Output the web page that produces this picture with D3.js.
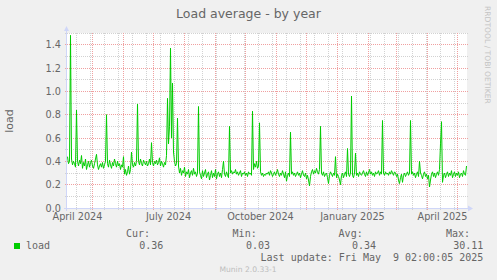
<!DOCTYPE html>
<html>
<head>
<meta charset="utf-8">
<script src="https://cdn.jsdelivr.net/npm/d3@7"></script>
<style>
  html, body { margin: 0; padding: 0; background: #f0f0f0; }
  svg { display: block; }
  text { font-family: 'DejaVu Sans', sans-serif; fill: #666666; }
  .mono { font-family: 'DejaVu Sans Mono', monospace; white-space: pre; font-size: 10px; }
</style>
</head>
<body>
<div id="chart"></div>
<script>
// one value per day, starting at firstDay
const firstDay = '2024-04-06';
const load = [
  0.44, 0.38, 0.40, 1.48, 0.42, 0.37, 0.40, 0.38, 0.35, 0.84,
  0.40, 0.36, 0.41, 0.38, 0.45, 0.34, 0.39, 0.36, 0.42, 0.33,
  0.37, 0.40, 0.35, 0.39, 0.41, 0.36, 0.34, 0.38, 0.42, 0.46,
  0.37, 0.33, 0.36, 0.38, 0.35, 0.39, 0.34, 0.37, 0.40, 0.80,
  0.38, 0.35, 0.41, 0.37, 0.34, 0.39, 0.36, 0.42, 0.38, 0.35,
  0.40, 0.36, 0.38, 0.33, 0.37, 0.35, 0.44, 0.29, 0.33, 0.28,
  0.31, 0.36, 0.29, 0.33, 0.48, 0.37, 0.35, 0.39, 0.36, 0.40,
  0.89, 0.40, 0.37, 0.42, 0.38, 0.36, 0.41, 0.39, 0.37, 0.40,
  0.36, 0.38, 0.42, 0.37, 0.56, 0.39, 0.36, 0.40, 0.38, 0.41,
  0.37, 0.39, 0.43, 0.36, 0.40, 0.38, 0.35, 0.39, 0.37, 0.45,
  0.94, 0.55, 0.70, 1.37, 0.60, 1.07, 0.48, 0.40, 0.36, 0.38,
  0.77, 0.36, 0.30, 0.34, 0.28, 0.32, 0.30, 0.35, 0.27, 0.31,
  0.29, 0.33, 0.26, 0.30, 0.32, 0.28, 0.34, 0.29, 0.31, 0.27,
  0.30, 0.87, 0.31, 0.28, 0.25, 0.32, 0.27, 0.30, 0.33, 0.26,
  0.29, 0.31, 0.24, 0.28, 0.32, 0.26, 0.30, 0.27, 0.33, 0.25,
  0.29, 0.31, 0.27, 0.30, 0.26, 0.33, 0.40, 0.29, 0.27, 0.31,
  0.28, 0.26, 0.70, 0.30, 0.32, 0.29, 0.31, 0.30, 0.33, 0.29,
  0.31, 0.28, 0.30, 0.32, 0.27, 0.30, 0.29, 0.31, 0.28, 0.30,
  0.27, 0.31, 0.29, 0.30, 0.28, 0.83, 0.33, 0.38, 0.35, 0.40,
  0.34, 0.36, 0.73, 0.31, 0.28, 0.30, 0.27, 0.29, 0.28, 0.30,
  0.29, 0.31, 0.28, 0.32, 0.30, 0.27, 0.29, 0.31, 0.28, 0.30,
  0.33, 0.29, 0.27, 0.30, 0.28, 0.32, 0.29, 0.26, 0.31, 0.23,
  0.28, 0.30, 0.27, 0.65, 0.29, 0.31, 0.28, 0.30, 0.27, 0.29,
  0.31, 0.28, 0.30, 0.26, 0.29, 0.32, 0.28, 0.27, 0.30, 0.25,
  0.28, 0.24, 0.19, 0.27, 0.31, 0.33, 0.29, 0.32, 0.30, 0.34,
  0.31, 0.29, 0.33, 0.70, 0.30, 0.28, 0.31, 0.27, 0.29, 0.30,
  0.26, 0.21, 0.28, 0.31, 0.29, 0.27, 0.30, 0.28, 0.44, 0.26,
  0.29, 0.27, 0.24, 0.20, 0.28, 0.30, 0.26, 0.29, 0.31, 0.27,
  0.51, 0.29, 0.27, 0.30, 0.96, 0.28, 0.26, 0.30, 0.47, 0.28,
  0.30, 0.27, 0.31, 0.29, 0.28, 0.30, 0.32, 0.29, 0.27, 0.31,
  0.28, 0.30, 0.33, 0.29, 0.31, 0.28, 0.30, 0.27, 0.31, 0.29,
  0.30, 0.32, 0.28, 0.31, 0.29, 0.75, 0.30, 0.28, 0.31, 0.29,
  0.30, 0.28, 0.31, 0.29, 0.32, 0.30, 0.28, 0.31, 0.30, 0.27,
  0.29, 0.24, 0.21, 0.26, 0.29, 0.22, 0.28, 0.30, 0.27, 0.29,
  0.31, 0.28, 0.30, 0.75, 0.29, 0.31, 0.28, 0.30, 0.26, 0.29,
  0.31, 0.27, 0.40, 0.30, 0.28, 0.25, 0.29, 0.31, 0.27, 0.29,
  0.25, 0.28, 0.18, 0.24, 0.29, 0.31, 0.27, 0.30, 0.26, 0.29,
  0.31, 0.28, 0.33, 0.55, 0.74, 0.22, 0.28, 0.30, 0.26, 0.29,
  0.31, 0.27, 0.30, 0.28, 0.32, 0.26, 0.29, 0.31, 0.27, 0.30,
  0.28, 0.31, 0.26, 0.29, 0.30, 0.27, 0.32, 0.29, 0.28, 0.36
];

const yTicks = [0, 0.2, 0.4, 0.6, 0.8, 1.0, 1.2, 1.4];
const yMinor = [0.1, 0.3, 0.5, 0.7, 0.9, 1.1, 1.3, 1.5];
const labelMonths = ['2024-04-01', '2024-07-01', '2024-10-01', '2025-01-01', '2025-04-01'];

const legendHeads = ['Cur:', 'Min:', 'Avg:', 'Max:'];
const legendValues = ['0.36', '0.03', '0.34', '30.11'];
const seriesName = 'load';
const lastUpdate = 'Last update: Fri May  9 02:00:05 2025';

const width = 497;
const height = 280;
const plotLeft = 67;
const plotTop = 33;
const plotW = 400;
const plotH = 175;

const svg = d3.select('#chart').append('svg').attr('width', width).attr('height', height);

svg.append('rect').attr('width', width).attr('height', height).attr('fill', '#f0f0f0');
svg.append('rect').attr('x', plotLeft).attr('y', plotTop).attr('width', plotW).attr('height', plotH).attr('fill', '#ffffff');

/* Scales
=========================================================================*/
const start = new Date(Date.UTC(2024, 3, 5, 12));
const end = d3.utcDay.offset(start, 400);
const x = d3.scaleUtc().domain([start, end]).range([plotLeft, plotLeft + plotW]);
const y = d3.scaleLinear().domain([0, 1.5]).range([plotTop + plotH, plotTop]);
const px = (v) => Math.floor(v) + 0.5;

/* Grid
=========================================================================*/
const grid = svg.append('g');
const minorDays = d3.utcMonday.range(new Date(Date.UTC(2024, 3, 15)), end, 2);
const months = d3.utcMonth.range(start, end);

grid.selectAll('.xminor').data(minorDays).enter().append('line')
  .attr('x1', (d) => px(x(d))).attr('x2', (d) => px(x(d)))
  .attr('y1', plotTop).attr('y2', plotTop + plotH + 2)
  .attr('stroke', '#d2d2d2').attr('stroke-dasharray', '1,1');

grid.selectAll('.yminor').data(yMinor).enter().append('line')
  .attr('x1', plotLeft - 2).attr('x2', plotLeft + plotW + 1)
  .attr('y1', (d) => px(y(d))).attr('y2', (d) => px(y(d)))
  .attr('stroke', '#d2d2d2').attr('stroke-dasharray', '1,1');

grid.selectAll('.xmajor').data(months).enter().append('line')
  .attr('x1', (d) => px(x(d))).attr('x2', (d) => px(x(d)))
  .attr('y1', plotTop).attr('y2', plotTop + plotH + 3)
  .attr('stroke', '#f0a0a0').attr('stroke-dasharray', '1,1');

grid.selectAll('.ymajor').data(yTicks.slice(1)).enter().append('line')
  .attr('x1', plotLeft - 2).attr('x2', plotLeft + plotW + 1)
  .attr('y1', (d) => px(y(d))).attr('y2', (d) => px(y(d)))
  .attr('stroke', '#f0a0a0').attr('stroke-dasharray', '1,1');

/* Line
=========================================================================*/
const day0 = new Date(firstDay + 'T00:00:00Z');
const points = load.map((v, i) => [d3.utcDay.offset(day0, i), v]);

svg.append('path')
  .datum(points)
  .attr('fill', 'none')
  .attr('stroke', '#00cc00')
  .attr('stroke-width', 1)
  .attr('d', d3.line().x((d) => x(d[0])).y((d) => y(d[1])));

/* Axes
=========================================================================*/
const axisColor = '#cfd6f8';
const y0 = px(y(0));
svg.append('line').attr('x1', plotLeft - 0.5).attr('x2', plotLeft - 0.5).attr('y1', plotTop + plotH + 3).attr('y2', plotTop - 3)
  .attr('stroke', axisColor);
svg.append('line').attr('x1', plotLeft - 3).attr('x2', plotLeft + plotW + 2).attr('y1', y0).attr('y2', y0)
  .attr('stroke', axisColor);
svg.append('path')
  .attr('d', `M${plotLeft - 3},${plotTop - 2}L${plotLeft + 2},${plotTop - 2}L${plotLeft - 0.5},${plotTop - 7}Z`)
  .attr('fill', axisColor);
svg.append('path')
  .attr('d', `M${plotLeft + plotW + 1},${y0 - 3}L${plotLeft + plotW + 1},${y0 + 3}L${plotLeft + plotW + 6},${y0}Z`)
  .attr('fill', axisColor);

svg.selectAll('.ylab').data(yTicks).enter().append('text')
  .attr('x', 61).attr('y', (d) => px(y(d)))
  .attr('dy', '0.35em').attr('text-anchor', 'end').attr('font-size', '9.7px')
  .text((d) => d3.format('.1f')(d));

svg.selectAll('.xlab').data(labelMonths).enter().append('text')
  .attr('x', (d) => x(d3.utcDay.offset(new Date(d + 'T00:00:00Z'), 15)))
  .attr('y', 219.5).attr('text-anchor', 'middle').attr('font-size', '9.7px')
  .text((d) => d3.utcFormat('%B %Y')(new Date(d + 'T00:00:00Z')));

/* Titles
=========================================================================*/
svg.append('text').attr('x', 248.5).attr('y', 18.3).attr('text-anchor', 'middle').attr('font-size', '12.5px')
  .text('Load average - by year');

svg.append('text').attr('transform', 'translate(13,121) rotate(-90)').attr('text-anchor', 'middle')
  .attr('font-size', '11px').text('load');

svg.append('text').attr('transform', 'translate(485,6) rotate(90)').attr('text-anchor', 'start')
  .attr('font-size', '7.6px').style('fill', '#c4c4c4').text('RRDTOOL / TOBI OETIKER');

/* Legend
=========================================================================*/
const headEnds = [150, 256.7, 362.7, 470];
const valueEnds = [163.3, 270, 376, 483.3];

svg.selectAll('.lhead').data(legendHeads).enter().append('text')
  .attr('class', 'mono').attr('x', (d, i) => headEnds[i]).attr('y', 236.8).attr('text-anchor', 'end')
  .text((d) => d);

svg.append('rect').attr('x', 14).attr('y', 243).attr('width', 6).attr('height', 6).attr('fill', '#00cc00');
svg.append('text').attr('class', 'mono').attr('x', 26).attr('y', 249).text(seriesName);

svg.selectAll('.lval').data(legendValues).enter().append('text')
  .attr('class', 'mono').attr('x', (d, i) => valueEnds[i]).attr('y', 249).attr('text-anchor', 'end')
  .text((d) => d);

svg.append('text').attr('class', 'mono').attr('x', 483.3).attr('y', 261).attr('text-anchor', 'end')
  .text(lastUpdate);

svg.append('text').attr('x', 248).attr('y', 271.5).attr('text-anchor', 'middle').attr('font-size', '7.6px')
  .style('fill', '#bdbdbd').text('Munin 2.0.33-1');
</script>
</body>
</html>
